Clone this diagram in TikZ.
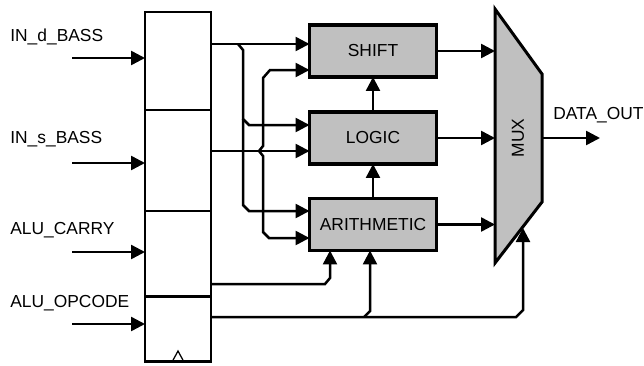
\documentclass[tikz,border=0pt]{standalone}
\usepackage{fontspec}
\setmainfont{Liberation Sans}
\usepackage{xcolor}
\usetikzlibrary{arrows.meta}
\definecolor{unitgray}{HTML}{C0C0C0}
\tikzset{
  wire/.style={line width=0.5mm},
  arr/.style={wire,-{Triangle[length=2.8mm,width=2.8mm]}},
  unit/.style={draw,line width=0.65mm,fill=unitgray,minimum width=2.54cm,minimum height=1.04cm,inner sep=0pt,outer sep=0pt},
  regseg/.style={draw,line width=0.55mm,minimum width=1.32cm,inner sep=0pt,outer sep=0pt},
  lbl/.style={anchor=west,inner sep=0pt}
}

\begin{document}
\begin{tikzpicture}[x=0.02cm,y=-0.02cm,font=\fontsize{9.9pt}{11pt}\selectfont]
    \useasboundingbox (0,0) rectangle (644,365);
    % register
    \node[regseg,minimum height=1.96cm] (regd) at (178,61) {};
    \node[regseg,minimum height=2.02cm] (regs) at (178,160.5) {};
    \node[regseg,minimum height=1.72cm] (regc) at (178,254) {};
    \node[regseg,minimum height=1.30cm] (rego) at (178,329) {};
    \draw[line width=0.25mm] (172,362) -- (178,351) -- (184,362);
    \foreach \n/\y/\ly/\t in {regd/58/37/IN\_d\_BASS, regs/163/139/IN\_s\_BASS,
                              regc/252/230/ALU\_CARRY, rego/324/303/ALU\_OPCODE} {
      \node[lbl] (l\n) at (10,\ly) {\t};
      \coordinate (i\n) at (72,\y);
      \draw[arr] (i\n) -- (\n.west |- i\n);
    }
    % units
    \node[unit] (shift) at (373,51) {SHIFT};
    \node[unit] (logic) at (373,138) {LOGIC};
    \node[unit] (arith) at (373,224.5) {ARITHMETIC};
    \draw[arr] (arith) -- (logic);
    \draw[arr] (logic) -- (shift);
    % mux
    \draw[line width=0.6mm,fill=unitgray] (495,9) -- (542,74) -- (542,202) -- (495,263) -- cycle;
    \node[rotate=90] (mux) at (518,138) {MUX};
    \coordinate (muxin) at (495,0);
    \coordinate (muxout) at (542,138);
    \coordinate (muxsel) at (523,228);
    \foreach \u in {shift,logic,arith}
      \draw[arr] (\u.east) -- (\u.east -| muxin);
    \coordinate (dout) at (600,138);
    \draw[arr] (muxout) -- (dout);
    \node[lbl] (ldout) at (553,115) {DATA\_OUT};
    % register outputs
    \coordinate (ja) at (238,44);
    \coordinate (jb) at (259,151);
    \coordinate (jc) at (364,317);
    \coordinate (jd) at (325,284);
    \draw[arr] (regd.east |- ja) -- (shift.west |- ja);
    \draw[arr] (regs.east |- jb) -- (logic.west |- jb);
    \draw[arr] (ja) -- ++(5,6) -- (243,119) -- ++(6,6) coordinate (ka) -- (logic.west |- ka);
    \draw[arr] (243,119) -- (243,205) -- ++(6,6) coordinate (kb) -- (arith.west |- kb);
    \draw[arr] (jb) -- ++(4,-5) -- (263,78) -- ++(7,-8) coordinate (kc) -- (shift.west |- kc);
    \draw[arr] (jb) -- ++(4,5) -- (263,232) -- ++(6,6) coordinate (kd) -- (arith.west |- kd);
    \draw[arr] (regc.east |- jd) -- (jd) -- ++(5,-6) coordinate (ke) -- (ke |- arith.south);
    \draw[arr] (rego.east |- jc) -- (516,317) -- ++(7,-7) coordinate (kf) -- (kf |- muxsel);
    \draw[arr] (jc) -- ++(6,-6) coordinate (kg) -- (kg |- arith.south);
\end{tikzpicture}
\end{document}
